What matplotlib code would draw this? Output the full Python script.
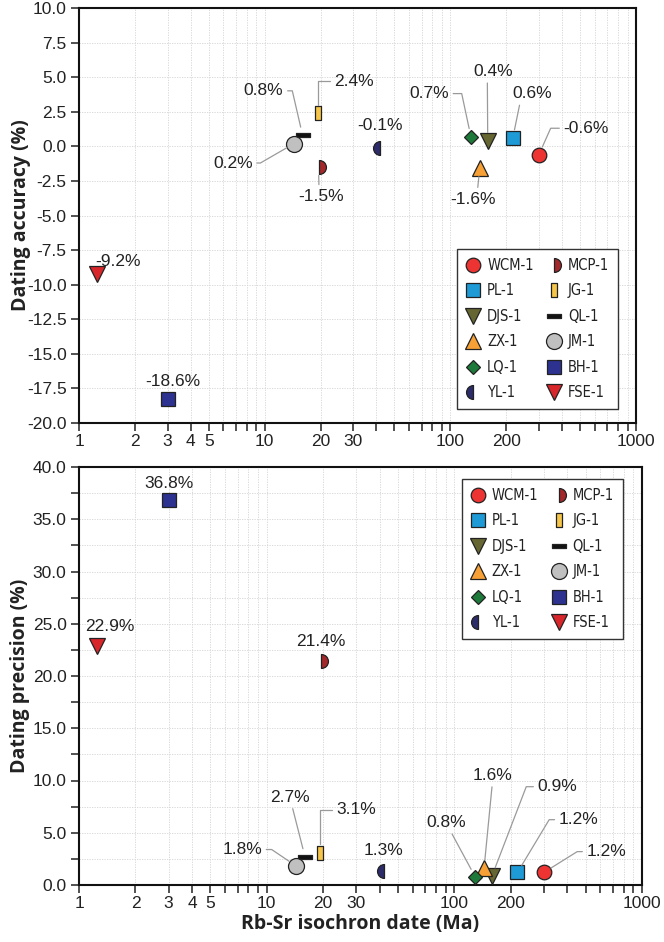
import numpy as np
import matplotlib
matplotlib.use("Agg")
import matplotlib.pyplot as plt
from matplotlib.path import Path
from matplotlib.ticker import FixedLocator, FixedFormatter, MultipleLocator, FormatStrFormatter

# ---- data -------------------------------------------------------------
samples = ["WCM-1", "PL-1", "DJS-1", "ZX-1", "LQ-1", "YL-1",
           "MCP-1", "JG-1", "QL-1", "JM-1", "BH-1", "FSE-1"]
ages = [300, 217, 159, 144, 129, 42, 19.5, 19.3, 16, 14.4, 3.0, 1.25]
accuracy = [-0.6, 0.6, 0.4, -1.6, 0.7, -0.1, -1.5, 2.4, 0.8, 0.2, -18.3, -9.2]
accuracy_txt = ["-0.6%", "0.6%", "0.4%", "-1.6%", "0.7%", "-0.1%",
                "-1.5%", "2.4%", "0.8%", "0.2%", "-18.6%", "-9.2%"]
precision = [1.2, 1.2, 0.9, 1.6, 0.8, 1.3, 21.4, 3.1, 2.7, 1.8, 36.8, 22.9]
precision_txt = ["1.2%", "1.2%", "0.9%", "1.6%", "0.8%", "1.3%",
                 "21.4%", "3.1%", "2.7%", "1.8%", "36.8%", "22.9%"]

xtick_vals = [d * m for d in (1, 10, 100) for m in range(1, 10)] + [1000]
xtick_lbls = {1: "1", 2: "2", 3: "3", 4: "4", 5: "5", 10: "10", 20: "20",
              30: "30", 100: "100", 200: "200", 1000: "1000"}

# ---- marker styles ----------------------------------------------------
right_half = Path.wedge(-90, 90)
left_half = Path.wedge(90, 270)
vbar = Path([(-0.38, -1), (0.38, -1), (0.38, 1), (-0.38, 1), (-0.38, -1)],
            closed=True)
hbar = Path([(-1, -0.32), (1, -0.32), (1, 0.32), (-1, 0.32), (-1, -0.32)],
            closed=True)

styles = {
    "WCM-1": dict(marker="o", ms=10.5, mfc="#ee3333"),
    "PL-1": dict(marker="s", ms=9.5, mfc="#1e9bd7"),
    "DJS-1": dict(marker="v", ms=11, mfc="#666633"),
    "ZX-1": dict(marker="^", ms=11, mfc="#f7a035"),
    "LQ-1": dict(marker="D", ms=7.5, mfc="#1d7a3a"),
    "YL-1": dict(marker=left_half, ms=10, mfc="#2c2c6a"),
    "MCP-1": dict(marker=right_half, ms=10, mfc="#a3282b"),
    "JG-1": dict(marker=vbar, ms=9.5, mfc="#f6c64a"),
    "QL-1": dict(marker=hbar, ms=10.5, mfc="#111111"),
    "JM-1": dict(marker="o", ms=11.5, mfc="#c0c0c0"),
    "BH-1": dict(marker="s", ms=10, mfc="#2d3190"),
    "FSE-1": dict(marker="v", ms=11.5, mfc="#d8262b"),
}

# label placement: offset (pt), relpos on text, connection angle (None = straight, "none" = no line)
top_lbl = {
    "WCM-1": ((34, 19), (0, 0.5), 66),
    "PL-1": ((14, 32), (0.2, 0), None),
    "DJS-1": ((4, 50), (0.35, 0), None),
    "ZX-1": ((-5, -22), (0.6, 1), None),
    "LQ-1": ((-30, 31), (1, 0.5), 102),
    "YL-1": ((0, 16), None, "none"),
    "MCP-1": ((2, -21), (0.45, 1), None),
    "JG-1": ((26, 23), (0, 0.5), 90),
    "QL-1": ((-28, 32), (1, 0.5), 103),
    "JM-1": ((-44, -14), (1, 0.5), 30),
    "BH-1": ((4, 13), None, "none"),
    "FSE-1": ((15, 9), None, "none"),
}
bot_lbl = {
    "WCM-1": ((45, 15), (0, 0.5), 32),
    "PL-1": ((44, 38), (0, 0.5), 59),
    "DJS-1": ((47, 64), (0, 0.5), 69),
    "ZX-1": ((6, 67), (0.5, 0), None),
    "LQ-1": ((-21, 39), (0.6, 0), None),
    "YL-1": ((0, 15), None, "none"),
    "MCP-1": ((0, 14), None, "none"),
    "JG-1": ((26, 31), (0, 0.5), 90),
    "QL-1": ((-11, 43), (0.55, 0), None),
    "JM-1": ((-39, 12), (1, 0.5), 146),
    "BH-1": ((0, 12), None, "none"),
    "FSE-1": ((9, 14), None, "none"),
}

txt_font = ["Liberation Sans", "DejaVu Sans"]
plt.rcParams["font.family"] = txt_font

fig = plt.figure(figsize=(6.64, 9.42), dpi=100)
ax1 = fig.add_axes([79 / 664, 1 - 423 / 942, 557 / 664, 415 / 942])
ax2 = fig.add_axes([79 / 664, 1 - 885 / 942, 563 / 664, 418 / 942])


def style_axes(ax):
    ax.set_xscale("log")
    ax.set_xlim(1, 1000)
    ax.xaxis.set_major_locator(FixedLocator(xtick_vals))
    ax.xaxis.set_major_formatter(FixedFormatter([xtick_lbls.get(v, "") for v in xtick_vals]))
    ax.xaxis.set_minor_locator(FixedLocator([]))
    for s in ax.spines.values():
        s.set_linewidth(1.5)
        s.set_color("#111111")
    ax.tick_params(which="both", direction="out", length=6, width=1.1,
                   color="#222222", labelsize=12.5, labelcolor="#222222", pad=3)
    ax.tick_params(axis="x", pad=2)
    ax.grid(True, which="both", color="#d4d4d4", lw=0.6, ls=(0, (1.5, 1.5)))
    ax.set_axisbelow(True)


def draw(ax, yvals, ytxt, lbl):
    for name, x, y in zip(samples, ages, yvals):
        ax.plot([x], [y], ls="none", mec="#222222", mew=0.9, label=name,
                zorder=3, **styles[name])
    for name, x, y, t in zip(samples, ages, yvals, ytxt):
        off, rel, ang = lbl[name]
        kw = dict(xy=(x, y), xytext=off, textcoords="offset points",
                  ha="center", va="center", fontsize=12.5, color="#222222",
                  zorder=4)
        if ang != "none":
            cs = "arc3" if ang is None else f"angle,angleA=0,angleB={ang},rad=0"
            kw["arrowprops"] = dict(arrowstyle="-", color="#9a9a9a", lw=0.9,
                                    shrinkA=1, shrinkB=6, relpos=rel,
                                    connectionstyle=cs)
        ax.annotate(t, **kw)


style_axes(ax1)
ax1.set_ylim(-20, 10)
ax1.yaxis.set_major_locator(MultipleLocator(2.5))
ax1.yaxis.set_major_formatter(FormatStrFormatter("%.1f"))
draw(ax1, accuracy, accuracy_txt, top_lbl)

style_axes(ax2)
ax2.set_ylim(0, 40)
ax2.yaxis.set_major_locator(MultipleLocator(5))
ax2.yaxis.set_minor_locator(MultipleLocator(2.5))
ax2.yaxis.set_major_formatter(FormatStrFormatter("%.1f"))
draw(ax2, precision, precision_txt, bot_lbl)

lab_font = dict(family=["Open Sans", "DejaVu Sans"], weight="bold", size=14, color="#222222")
ax1.set_ylabel("Dating accuracy (%)", **lab_font)
ax1.yaxis.set_label_coords(-0.105, 0.5)
ax2.set_ylabel("Dating precision (%)", **lab_font)
ax2.yaxis.set_label_coords(-0.104, 0.5)
for a in (ax1, ax2):
    a.yaxis.label.set_va("center")
ax2.set_xlabel("Rb-Sr isochron date (Ma)", **lab_font)
ax2.xaxis.set_label_coords(0.5, -0.093)
ax2.xaxis.label.set_va("center")

leg_kw = dict(ncol=2, loc="upper left", borderaxespad=0, frameon=True,
              fancybox=False, framealpha=1, edgecolor="#333333",
              handlelength=1.0, handletextpad=0.45, columnspacing=0.9,
              labelspacing=0.72, borderpad=0.6,
              prop=dict(family=["DejaVu Sans"], stretch="condensed", size=10.5))
leg1 = ax1.legend(bbox_to_anchor=(0.679, 0.419), **leg_kw)
leg2 = ax2.legend(bbox_to_anchor=(0.680, 0.971), **leg_kw)
for lg in (leg1, leg2):
    lg.get_frame().set_linewidth(1.0)
    for t in lg.get_texts():
        t.set_color("#222222")

fig.savefig("out.png", dpi=100)
